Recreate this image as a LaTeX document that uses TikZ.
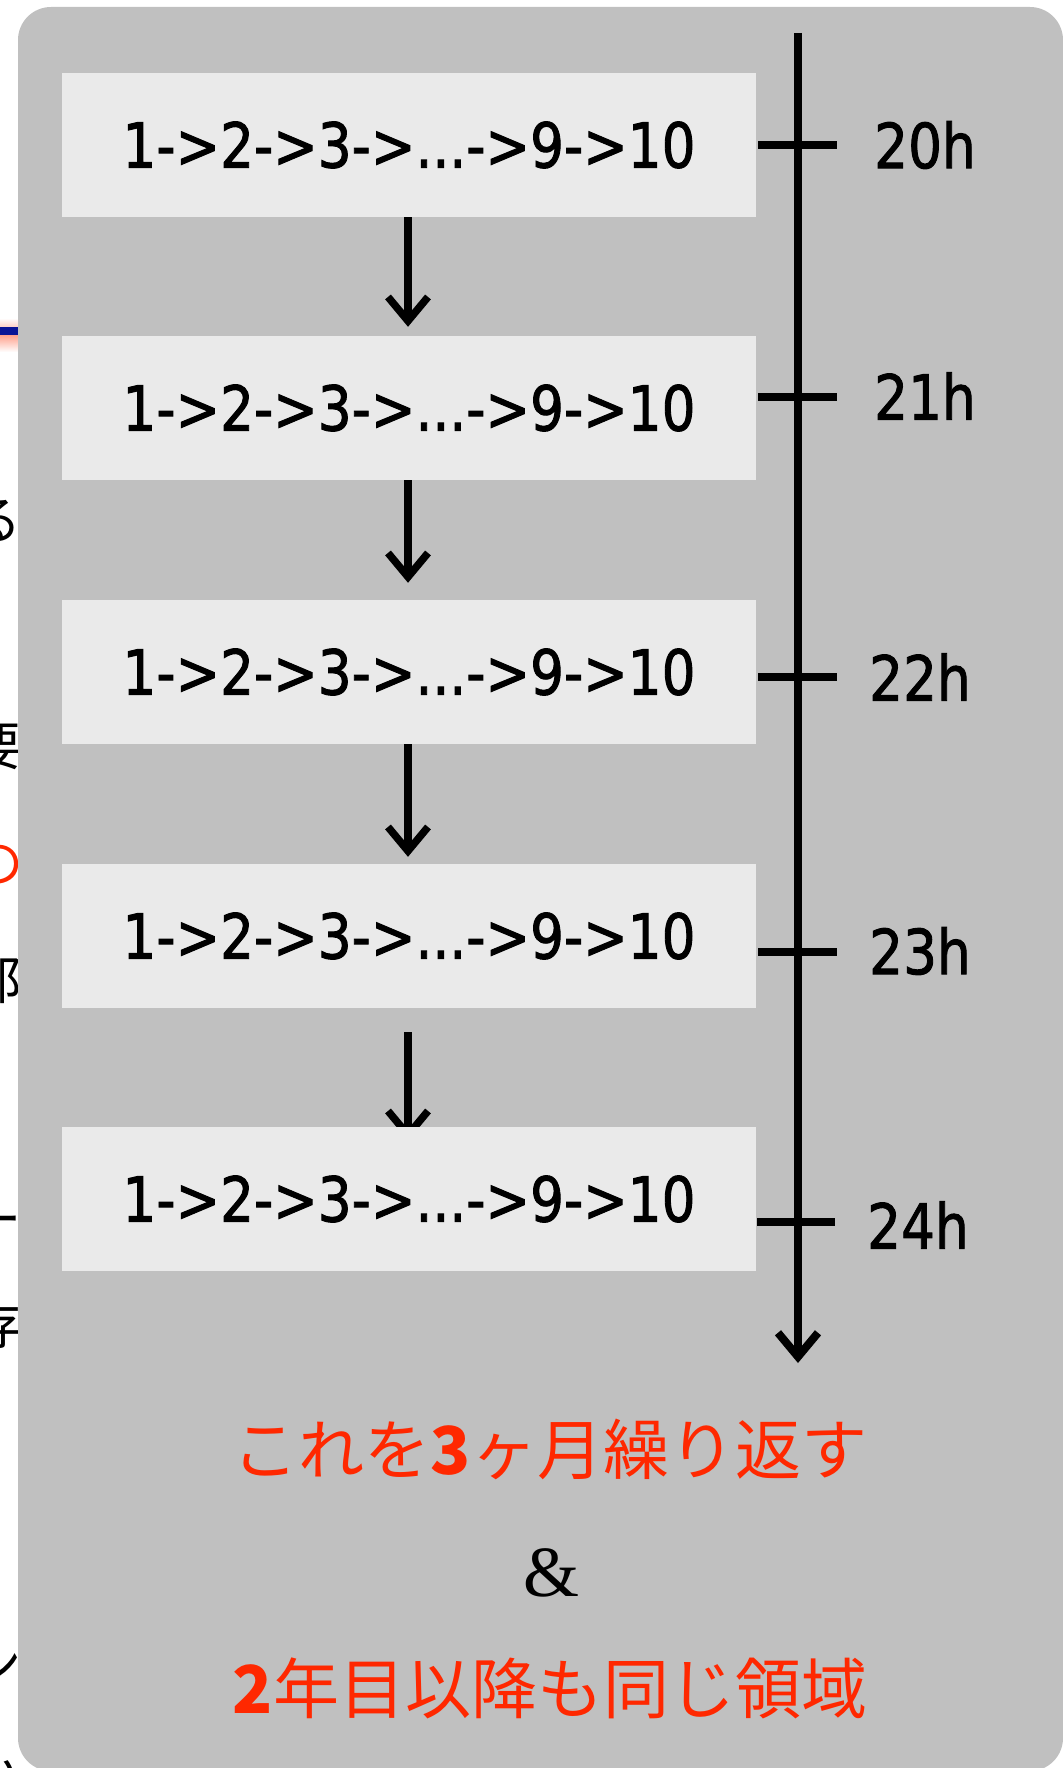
\documentclass[tikz,border=0pt]{standalone}
\usepackage{fontspec}
\usepackage{graphicx}
\usetikzlibrary{arrows.meta,calc}
\newfontfamily\comicf[FakeBold=1.6]{DejaVu Sans}
\newfontfamily\jpf{Noto Sans CJK JP}
\newfontfamily\ampf{Liberation Serif}
\definecolor{panelgray}{RGB}{192,192,192}
\definecolor{boxgray}{RGB}{234,234,234}
\definecolor{hlred}{RGB}{255,40,0}
\definecolor{slideblue}{RGB}{10,20,150}
\definecolor{salmon}{RGB}{255,160,140}
\newcommand{\seqtxt}{\resizebox{573pt}{\height}{1->2->3->...->9->10}}
\newcommand{\hrtxt}[1]{\scalebox{0.86}[1]{#1}}
\pgfdeclarelayer{back}
\pgfdeclarelayer{mid}
\pgfsetlayers{back,mid,main}
\tikzset{
  stepbox/.style={fill=boxgray, minimum width=694pt, minimum height=144pt, inner sep=0pt,
    font=\comicf\fontsize{62}{70}\selectfont},
  hour/.style={anchor=west, inner sep=0pt, font=\comicf\fontsize{62}{70}\selectfont},
  flowarrow/.style={line width=7.5pt, -{Straight Barb[length=24pt,width=40pt]}},
  timeline/.style={line width=8pt, -{Straight Barb[length=24pt,width=40pt]}},
  tickline/.style={line width=8pt},
  redjp/.style={text=hlred, inner sep=0pt, font=\jpf\fontsize{66}{70}\selectfont},
  frag/.style={anchor=east, inner sep=0pt, font=\jpf\fontsize{52}{56}\selectfont},
}
\begin{document}
\begin{tikzpicture}[x=1pt,y=-1pt]
\useasboundingbox (0,0) rectangle (1062,1768);
\clip (0,0) rectangle (1062,1768);
\begin{pgfonlayer}{back}
\fill[white] (0,0) rectangle (1062,1768);
% fragments of the slide behind the panel
\begin{scope}
\clip (0,0) rectangle (18,1768);
\shade[top color=white, bottom color=salmon!50] (0,318) rectangle (18,327);
\fill[slideblue] (0,327) rectangle (18,335);
\shade[top color=salmon, bottom color=white] (0,335) rectangle (18,352);
\node[frag] (f1) at (22,521) {る};
\node[frag] (f2) at (22,747) {要};
\node[frag, text=hlred] (f3) at (24,865) {の};
\node[frag] (f4) at (22,980) {部};
\node[frag] (f5) at (22,1227) {ー};
\node[frag] (f6) at (22,1325) {存};
\node[frag] (f7) at (22,1665) {ン};
\node[frag] (f8) at (22,1778) {い};
\end{scope}
\fill[panelgray, rounded corners=33pt] (18,7) rectangle (1063,1771);
\end{pgfonlayer}

% step boxes
\node[stepbox] (b1) at (409,145) {\seqtxt};
\node[stepbox] (b2) at (409,408) {\seqtxt};
\node[stepbox] (b3) at (409,672) {\seqtxt};
\node[stepbox] (b4) at (409,936) {\seqtxt};
\node[stepbox] (b5) at (409,1199) {\seqtxt};

% arrows between boxes
\draw[flowarrow, shorten >=9pt] ([xshift=-1pt]b1.south) -- ([xshift=-1pt]b2.north);
\draw[flowarrow, shorten >=17pt] ([xshift=-1pt]b2.south) -- ([xshift=-1pt]b3.north);
\draw[flowarrow, shorten >=7pt] ([xshift=-1pt]b3.south) -- ([xshift=-1pt]b4.north);
\begin{pgfonlayer}{mid}
\draw[flowarrow, shorten <=24pt, shorten >=-14pt] ([xshift=-1pt]b4.south) -- ([xshift=-1pt]b5.north);
\end{pgfonlayer}

% time line
\coordinate (tTop) at (798,33);
\coordinate (tEnd) at (798,1363);
\draw[timeline] (tTop) -- (tEnd);
\coordinate (k1l) at (758,145);  \coordinate (k1r) at (837,145);
\coordinate (k2l) at (758,397);  \coordinate (k2r) at (837,397);
\coordinate (k3l) at (758,677);  \coordinate (k3r) at (837,677);
\coordinate (k4l) at (758,952);  \coordinate (k4r) at (837,952);
\coordinate (k5l) at (757,1222); \coordinate (k5r) at (835,1222);
\draw[tickline] (k1l) -- (k1r);
\draw[tickline] (k2l) -- (k2r);
\draw[tickline] (k3l) -- (k3r);
\draw[tickline] (k4l) -- (k4r);
\draw[tickline] (k5l) -- (k5r);
\node[hour] (h1) at (874,145) {\hrtxt{20h}};
\node[hour] (h2) at (874,396) {\hrtxt{21h}};
\node[hour] (h3) at (869,677) {\hrtxt{22h}};
\node[hour] (h4) at (869,951) {\hrtxt{23h}};
\node[hour] (h5) at (867,1225) {\hrtxt{24h}};

% bottom text
\node[redjp] (rep) at (550,1449) {これを\textbf{3}ヶ月繰り返す};
\node[inner sep=0pt, font=\ampf\fontsize{72}{72}\selectfont] (amp) at (551,1573) {\&};
\node[redjp] (same) at (550,1688) {\textbf{2}年目以降も同じ領域};
\end{tikzpicture}
\end{document}
